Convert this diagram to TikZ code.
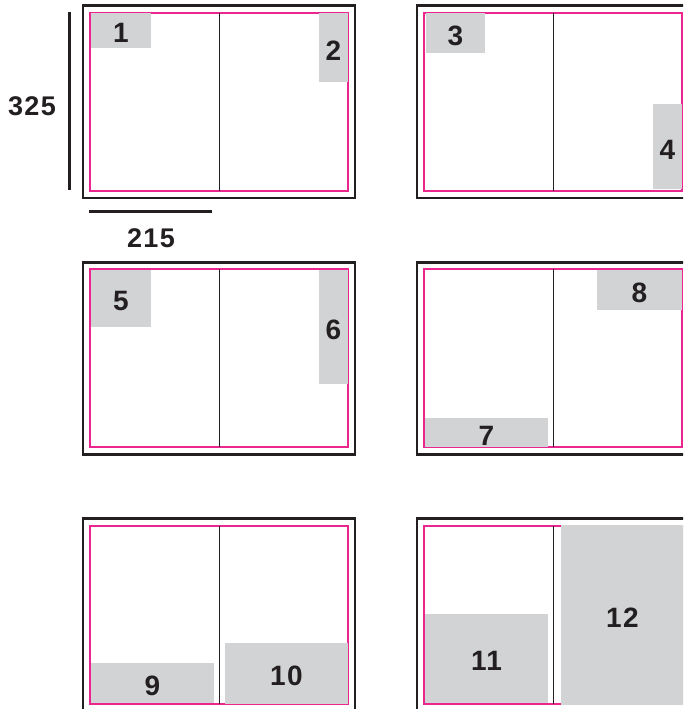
\documentclass[tikz,border=0pt]{standalone}
\usepackage{fontspec}
\setmainfont{Liberation Sans}
\newfontfamily\figfont[LetterSpace=5]{Liberation Sans}
\usetikzlibrary{positioning}
\definecolor{Ink}{HTML}{231F20}
\definecolor{Trim}{HTML}{EC268F}
\definecolor{Pad}{HTML}{D1D3D4}

\begin{document}
\begin{tikzpicture}[x=1pt, y=-1pt, frame/.style={draw=Ink,line width=2.4pt,minimum width=272pt,minimum height=192pt,inner sep=0pt,outer sep=0pt,anchor=north west}, trim/.style={draw=Trim,line width=2pt,minimum width=258pt,minimum height=178pt,inner sep=0pt,outer sep=0pt}, spine/.style={draw=Ink,line width=1pt}, pad/.style={fill=Pad,text=Ink,inner sep=0pt,outer sep=0pt,anchor=north west,text height=25pt,text depth=0pt,font=\figfont\bfseries\fontsize{28}{28}\selectfont}, dim/.style={draw=Ink,line width=3pt}, dimtext/.style={text=Ink,inner sep=0pt,font=\figfont\bfseries\fontsize{27}{27}\selectfont}]
\useasboundingbox (0,0) rectangle (683,709);
\clip (0,0) rectangle (683,709);
\node[frame] (f1) at (83,5.7) {};
\node[frame] (f2) at (417,5.7) {};
\node[frame] (f3) at (83,262.3) {};
\node[frame] (f4) at (417,262.3) {};
\node[frame] (f5) at (83,518.5) {};
\node[frame] (f6) at (417,518.5) {};
\node[trim,below right=7pt and 7pt of f1.north west] (t1) {};
\node[trim,below right=7pt and 7pt of f2.north west] (t2) {};
\node[trim,below right=7pt and 7pt of f3.north west] (t3) {};
\node[trim,below right=7pt and 7pt of f4.north west] (t4) {};
\node[trim,below right=7pt and 7pt of f5.north west] (t5) {};
\node[trim,below right=7pt and 7pt of f6.north west] (t6) {};
\draw[spine] (t1.north) -- (t1.south);
\draw[spine] (t2.north) -- (t2.south);
\draw[spine] (t3.north) -- (t3.south);
\draw[spine] (t4.north) -- (t4.south);
\draw[spine] (t5.north) -- (t5.south);
\draw[spine] (t6.north) -- (t6.south);
% gray blocks
\node[pad,minimum width=60pt,minimum height=35pt] (b1) at (91,13) {1};
\node[pad,minimum width=29pt,minimum height=69pt] (b2) at (319,13) {2};
\node[pad,minimum width=59pt,minimum height=40pt] (b3) at (426,13) {3};
\node[pad,minimum width=29pt,minimum height=85pt] (b4) at (653,104) {4};
\node[pad,minimum width=60pt,minimum height=57.5pt] (b5) at (91,269.5) {5};
\node[pad,minimum width=29pt,minimum height=114.5pt] (b6) at (319,269.5) {6};
\node[pad,minimum width=123pt,minimum height=29pt] (b7) at (425,418) {7};
\node[pad,minimum width=85pt,minimum height=40pt] (b8) at (597,270) {8};
\node[pad,minimum width=123pt,minimum height=40pt] (b9) at (91,663) {9};
\node[pad,minimum width=123pt,minimum height=60.5pt] (b10) at (225,643) {10};
\node[pad,minimum width=123pt,minimum height=89.5pt] (b11) at (425,613.5) {11};
\node[pad,minimum width=123pt,minimum height=180pt] (b12) at (561,525) {12};
% size marks
\coordinate (vtop) at (69,12);
\coordinate (vbot) at (69,190);
\coordinate (hleft) at (89,211);
\coordinate (hright) at (212,211);
\draw[dim] (vtop) -- (vbot);
\draw[dim] (hleft) -- (hright);
\node[dimtext] (h) at (32,106) {325};
\node[dimtext] (w) at (151,238) {215};
\end{tikzpicture}
\end{document}
